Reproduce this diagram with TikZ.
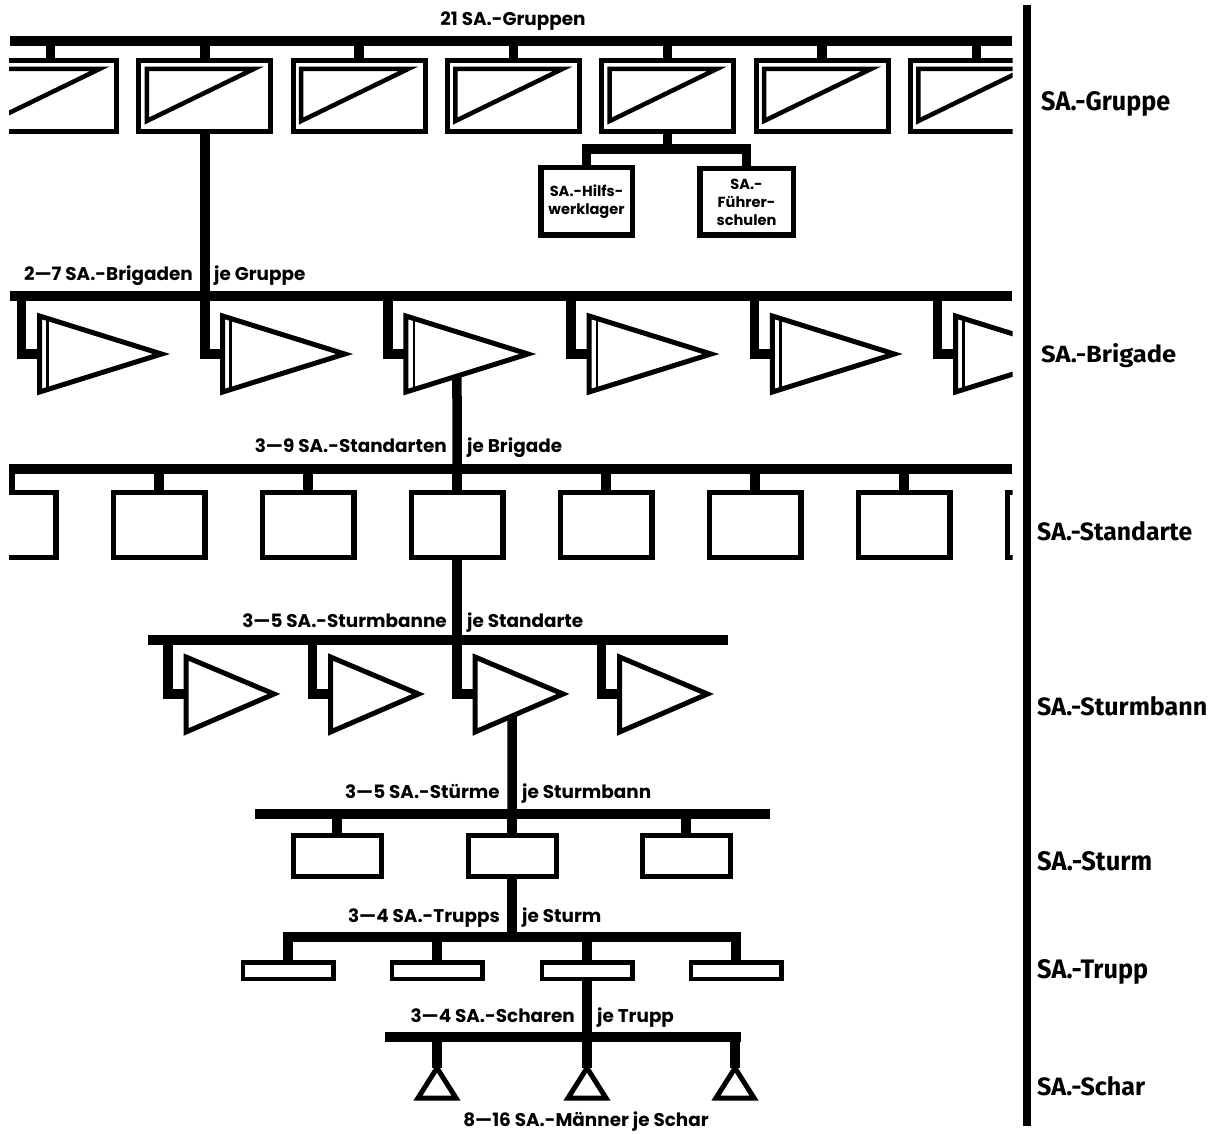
\documentclass[tikz,border=0pt]{standalone}
\usepackage{fontspec}
\setmainfont{Poppins}
\newfontfamily\labfont{Poppins}
\newfontfamily\rfont{Fira Sans}
\usetikzlibrary{calc}
\newcommand\rlab[2]{\resizebox{#1}{19pt}{\rfont\bfseries #2}}
\begin{document}
\begin{tikzpicture}[x=1pt,y=-1pt,
  bus/.style={line width=10.5pt},
  stem/.style={line width=9.5pt, line join=miter},
  frame/.style={draw, line width=5pt, inner sep=0pt, outer sep=0pt},
  pen/.style={line width=5pt, line join=miter},
  lab/.style={font=\labfont\bfseries\fontsize{18.4}{22}\selectfont, inner sep=0pt},
  small/.style={font=\labfont\bfseries\fontsize{14.6}{18}\selectfont},
  rl/.style={anchor=base west, inner sep=0pt},
]
\fill[white] (0,0) rectangle (1218,1134);
\useasboundingbox (0,0) rectangle (1218,1134);

% ---------------- Gruppe
\node[lab, anchor=base] (lgr) at (513,26) {21 SA.-Gruppen};
\coordinate (gL) at (10,41);
\coordinate (gR) at (1012,41);
\draw[bus] (gL) -- (gR);
\coordinate (bL) at (10,296);
\coordinate (bR) at (1012,296);
\coordinate (sL) at (8,469);
\coordinate (sR) at (1012,469);
\begin{scope}
\clip (9,0) rectangle (1012.5,1134);
\foreach \i in {0,...,6}{
  \node[frame, minimum width=132pt, minimum height=70.5pt] (g\i) at ({50.5+154.3*\i},96.25) {};
  \draw[stem] (g\i.north) -- (g\i.north |- gL);
  \draw[line width=4.5pt, line join=miter] ($(g\i.north west)+(8,8)$) -- ($(g\i.north west)+(115,8)$) -- ($(g\i.north west)+(8,60)$) -- cycle;
}
% ---------------- Brigade
\draw[bus] (bL) -- (bR);
\foreach \i in {0,...,5}{
  \pgfmathsetmacro\s{21.5+183.2*\i}
  \coordinate (bs\i) at (\s,296);
  \coordinate (bT\i) at ({\s+18},316);
  \coordinate (bB\i) at ({\s+18},392);
  \coordinate (bP\i) at ({\s+140},354);
  \coordinate (bM\i) at ({\s+18},354);
  \draw[pen] (bT\i) -- (bP\i) -- (bB\i) -- cycle;
  \draw[line width=2.5pt] ($(bT\i)+(8,4.5)$) -- ($(bB\i)+(8,-4.5)$);
  \draw[stem] (bs\i) |- (bM\i);
}
% ---------------- Standarte
\draw[bus] (sL) -- (sR);
\foreach \i in {0,...,7}{
  \node[frame, line width=5.5pt, minimum width=91.5pt, minimum height=65pt] (sd\i) at ({10+149*\i},524.75) {};
  \draw[stem] (sd\i.north) -- (sd\i.north |- sL);
}
\end{scope}
\draw[stem] (g1.south) |- (bM1);
\draw[stem] (intersection of bB2--bP2 and sd3.north--sd3.south) -- (sd3.north);

\node[lab, anchor=base east] at (193,280) {2—7 SA.-Brigaden};
\node[lab, anchor=base west] at (214,280) {je Gruppe};
\node[lab, anchor=base east] at (447,452) {3—9 SA.-Standarten};
\node[lab, anchor=base west] at (467,452) {je Brigade};

% ---------------- Hilfswerk / Fuehrerschulen
\coordinate (hb) at (0,149);
\node[frame, line width=5.5pt, minimum width=91.5pt, minimum height=67.5pt, small, align=center] (hw) at (586.5,201.5) {SA.-Hilfs-\\werklager};
\node[frame, line width=5.5pt, minimum width=93.5pt, minimum height=66.5pt, small, align=center] (fs) at (746.5,202) {SA.-\\Führer-\\schulen};
\draw[stem] (g4.south) -- (g4.south |- hb);
\draw[stem] (hw.north) -- (hw.north |- hb) -- (fs.north |- hb) -- (fs.north);

% ---------------- Sturmbann
\node[lab, anchor=base east] at (447,627) {3—5 SA.-Sturmbanne};
\node[lab, anchor=base west] at (467,627) {je Standarte};
\coordinate (mL) at (148,640);
\coordinate (mR) at (728,640);
\draw[bus] (mL) -- (mR);
\foreach \i in {0,...,3}{
  \pgfmathsetmacro\s{168+144.5*\i}
  \coordinate (ms\i) at (\s,640);
  \coordinate (mT\i) at ({\s+18},657);
  \coordinate (mB\i) at ({\s+18},732);
  \coordinate (mP\i) at ({\s+106},694);
  \coordinate (mM\i) at ({\s+18},694);
  \draw[pen] (mT\i) -- (mP\i) -- (mB\i) -- cycle;
  \draw[stem] (ms\i) |- (mM\i);
}
\draw[stem] (sd3.south) |- (mM2);

% ---------------- Sturm
\node[lab, anchor=base east] at (500,798) {3—5 SA.-Stürme};
\node[lab, anchor=base west] at (522,798) {je Sturmbann};
\coordinate (tL) at (255,814);
\coordinate (tR) at (770,814);
\draw[bus] (tL) -- (tR);
\foreach \x [count=\j from 0] in {337,512,686}{
  \node[frame, minimum width=88pt, minimum height=41pt] (st\j) at (\x,856) {};
  \draw[stem] (st\j.north) -- (st\j.north |- tL);
}
\draw[stem] (intersection of mB2--mP2 and st1.north--st1.south) -- (st1.north);

% ---------------- Trupp
\node[lab, anchor=base east] at (500,922) {3—4 SA.-Trupps};
\node[lab, anchor=base west] at (522,922) {je Sturm};
\coordinate (uL) at (283,937);
\coordinate (uR) at (741,937);
\draw[bus] (uL) -- (uR);
\foreach \x [count=\j from 0] in {288,437,587,736}{
  \node[frame, line width=4.5pt, minimum width=90.5pt, minimum height=16.5pt] (tr\j) at (\x,970.5) {};
  \draw[stem] (tr\j.north) -- (tr\j.north |- uL);
}
\draw[stem] (st1.south) -- (st1.south |- uL);

% ---------------- Schar
\node[lab, anchor=base east] at (575,1022) {3—4 SA.-Scharen};
\node[lab, anchor=base west] at (597,1022) {je Trupp};
\coordinate (cL) at (385,1037);
\coordinate (cR) at (741,1037);
\draw[bus] (cL) -- (cR);
\foreach \x [count=\j from 0] in {437,587,735}{
  \coordinate (cA\j) at (\x,1068);
  \draw[pen] (cA\j) -- ++(-19,30) -- ++(38,0) -- cycle;
  \draw[stem] (cA\j) -- (cA\j |- cL);
}
\draw[stem] (tr2.south) -- (tr2.south |- cL);
\node[lab, anchor=base] at (586,1126) {8—16 SA.-Männer je Schar};

% ---------------- right scale
\coordinate (vT) at (1027,5);
\coordinate (vB) at (1027,1126);
\draw[line width=8pt] (vT) -- (vB);
\node[rl] at (1041,111) {\rlab{129pt}{SA.-Gruppe}};
\node[rl] at (1041,362) {\rlab{135pt}{SA.-Brigade}};
\node[rl] at (1037,540) {\rlab{155pt}{SA.-Standarte}};
\node[rl] at (1037,715) {\rlab{170pt}{SA.-Sturmbann}};
\node[rl] at (1037,870) {\rlab{115pt}{SA.-Sturm}};
\node[rl] at (1037,978) {\rlab{111pt}{SA.-Trupp}};
\node[rl] at (1037,1095) {\rlab{108pt}{SA.-Schar}};
\end{tikzpicture}
\end{document}
